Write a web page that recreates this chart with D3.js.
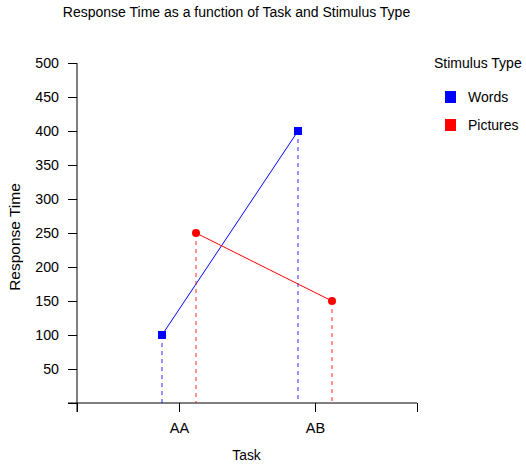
<!DOCTYPE html>
<html><head><meta charset="utf-8">
<script src="https://cdn.jsdelivr.net/npm/d3@7"></script>
<style>body{margin:0;background:#fff}svg{font-family:"Liberation Sans",Arial,sans-serif}</style>
</head><body><svg id="c" width="526" height="468"></svg>
<script>
const tasks = ["AA", "AB"];
const taskPos = [0.3, 0.7];
const stimuli = ["Words", "Pictures"];
const colors = ["#0000ff", "#ff0000"];
const offsets = [-0.05, 0.05];
const wordsRT = [100, 400];
const picturesRT = [250, 150];
const yTicks = [0, 50, 100, 150, 200, 250, 300, 350, 400, 450, 500];
const seriesVals = [wordsRT, picturesRT];

const svg = d3.select("#c");
const x = d3.scaleLinear().domain([0, 1]).range([77, 417]);
const y = d3.scaleLinear().domain([0, 500]).range([403, 63]);

svg.append("text").attr("x", 236.5).attr("y", 17).attr("text-anchor", "middle")
  .attr("font-size", 14).text("Response Time as a function of Task and Stimulus Type");

// y axis
const ya = svg.append("g").attr("transform", "translate(77,0)")
  .call(d3.axisLeft(y).tickValues(yTicks).tickSize(9).tickPadding(9).tickFormat(d => d === 0 ? "" : d));
ya.select(".domain").attr("d", "M0," + y(500) + "V" + 412).attr("stroke", "#000");
ya.selectAll("text").attr("font-size", 14.2).attr("font-family", "Liberation Sans, Arial, sans-serif").attr("fill", "#000");

// x axis
const xa = svg.append("g").attr("transform", "translate(0,403)")
  .call(d3.axisBottom(x).tickValues([0, ...taskPos, 1]).tickSize(9).tickPadding(11)
    .tickFormat((d) => { const i = taskPos.indexOf(d); return i >= 0 ? tasks[i] : ""; }));
xa.select(".domain").attr("d", "M68,0H417").attr("stroke", "#000");
xa.selectAll("text").attr("font-size", 14.5).attr("font-family", "Liberation Sans, Arial, sans-serif").attr("fill", "#000");

svg.append("text").attr("transform", "translate(20,237) rotate(-90)").attr("text-anchor", "middle")
  .attr("font-size", 15.5).text("Response Time");
svg.append("text").attr("x", 246.5).attr("y", 460).attr("text-anchor", "middle")
  .attr("font-size", 13.8).text("Task");

seriesVals.forEach((vals, s) => {
  const pts = vals.map((v, i) => [x(taskPos[i] + offsets[s]), y(v)]);
  pts.forEach(p => {
    svg.append("line").attr("x1", p[0]).attr("x2", p[0]).attr("y1", p[1]).attr("y2", y(0))
      .attr("stroke", colors[s]).attr("stroke-opacity", 0.55).attr("stroke-width", 1.5)
      .attr("stroke-dasharray", "4,4");
  });
  svg.append("path").attr("d", d3.line()(pts)).attr("stroke", colors[s]).attr("fill", "none").attr("stroke-width", 1);
  pts.forEach(p => {
    if (s === 0) svg.append("rect").attr("x", p[0] - 4).attr("y", p[1] - 4).attr("width", 8).attr("height", 8).attr("fill", colors[s]);
    else svg.append("circle").attr("cx", p[0]).attr("cy", p[1]).attr("r", 4).attr("fill", colors[s]);
  });
});

// legend
svg.append("text").attr("x", 434).attr("y", 68).attr("font-size", 14).text("Stimulus Type");
stimuli.forEach((name, i) => {
  svg.append("rect").attr("x", 445).attr("y", 91 + i * 28).attr("width", 11).attr("height", 12).attr("fill", colors[i]);
  svg.append("text").attr("x", 468).attr("y", 102 + i * 28).attr("font-size", 14).text(name);
});
</script></body></html>
